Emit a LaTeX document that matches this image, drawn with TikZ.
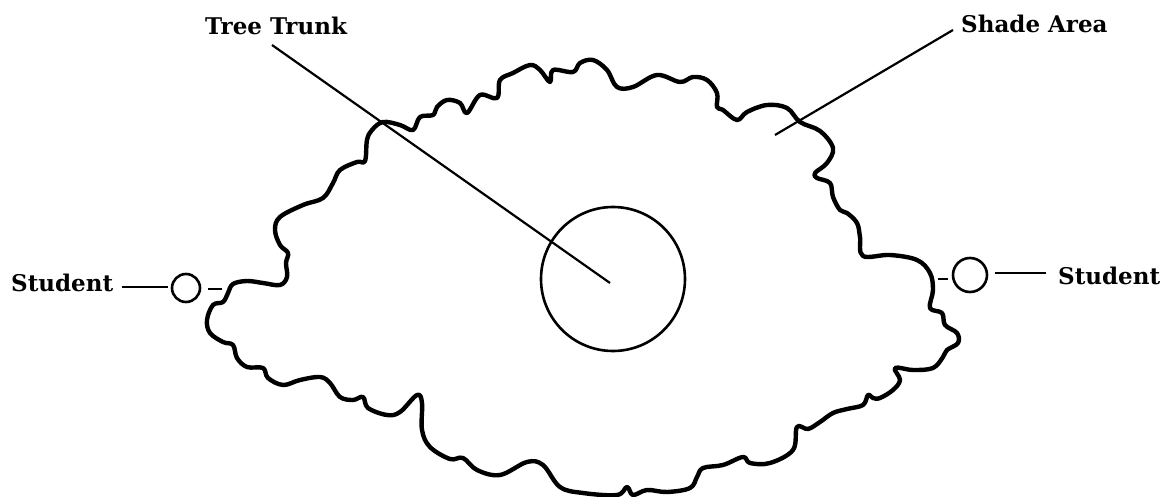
\documentclass[tikz,border=0pt]{standalone}
\usepackage{fontspec}
\setmainfont{DejaVu Serif}
\begin{document}
\begin{tikzpicture}[x=1pt,y=-1pt,
  lbl/.style={font=\bfseries\fontsize{23}{27}\selectfont, inner sep=0pt, anchor=base west},
  lead/.style={line width=2.2pt},
  ring/.style={circle, draw, line width=2.6pt, inner sep=0pt},
  cloudline/.style={line width=4.4pt, line join=round}]
\useasboundingbox (0,0) rectangle (1171,497);
% labels
\node[lbl] (tt) at (205,35) {Tree Trunk};
\node[lbl] (sa) at (961,33) {Shade Area};
\node[lbl] (sl) at (11,292) {Student};
\node[lbl] (sr) at (1058,285) {Student};
% trunk and students
\node[ring, minimum size=144pt] (trunk) at (613,279) {};
\node[ring, minimum size=28pt] (stl) at (186,288) {};
\node[ring, minimum size=34pt] (str) at (970,275) {};
% cloud (shade area)
\draw[cloudline] plot[smooth cycle, tension=0.6] coordinates {
(213,305) (223,302) (228,293) (233,284) (247,281) (263,283) (280,285) (287,277)
(286,263) (288,253) (280,245) (275,230) (280,217) (303,205) (323,198) (333,183)
(340,170) (357,162) (365,161) (367,140) (372,130) (383,122) (400,125) (413,130)
(420,117) (433,115) (437,107) (447,100) (460,103) (467,113) (480,95) (497,98)
(500,80) (513,73) (530,65) (540,70) (550,82) (553,70) (573,72) (580,63) (593,60)
(607,70) (617,87) (633,87) (657,75) (680,82) (693,77) (707,80) (717,93) (717,107)
(723,110) (737,120) (747,112) (767,105) (787,108) (800,122) (820,131) (833,148)
(827,163) (815,173) (817,178) (830,183) (833,197) (840,210) (847,213) (857,223)
(860,237) (863,256) (890,255) (917,260) (930,273) (933,290) (930,308) (942,313)
(945,325) (957,333) (958,343) (947,350) (943,357) (933,368) (913,370) (895,368)
(900,380) (893,390) (880,398) (873,398) (868,395) (863,405) (847,409) (833,413)
(820,422) (808,429) (797,427) (793,450) (770,463) (750,463) (743,457) (723,465)
(703,468) (697,477) (690,488) (667,492) (647,490) (633,495) (627,487) (617,495)
(583,493) (560,487) (543,465) (527,462) (500,475) (477,470) (463,458) (450,459)
(430,447) (422,430) (422,403) (417,395) (400,412) (387,415) (368,408) (363,397)
(353,400) (340,397) (330,383) (320,377) (300,380) (283,385) (268,378) (263,368)
(247,367) (237,358) (233,345) (223,342) (210,333) (207,320)};
% leader lines
\coordinate (tt0) at (272,45);
\coordinate (tt1) at (610,283);
\draw[lead] (tt0) -- (tt1);
\coordinate (sa0) at (953,30);
\coordinate (sa1) at (775,135);
\draw[lead] (sa0) -- (sa1);
\coordinate (sl0) at (122,287);
\coordinate (sl1) at (168,287);
\draw[lead] (sl0) -- (sl1);
\coordinate (dl0) at (208,289);
\coordinate (dl1) at (222,289);
\draw[lead, line width=2.6pt] (dl0) -- (dl1);
\coordinate (sr0) at (995,273);
\coordinate (sr1) at (1046,273);
\draw[lead] (sr0) -- (sr1);
\coordinate (dr0) at (938,279);
\coordinate (dr1) at (948,279);
\draw[lead, line width=2.6pt] (dr0) -- (dr1);
\end{tikzpicture}
\end{document}
